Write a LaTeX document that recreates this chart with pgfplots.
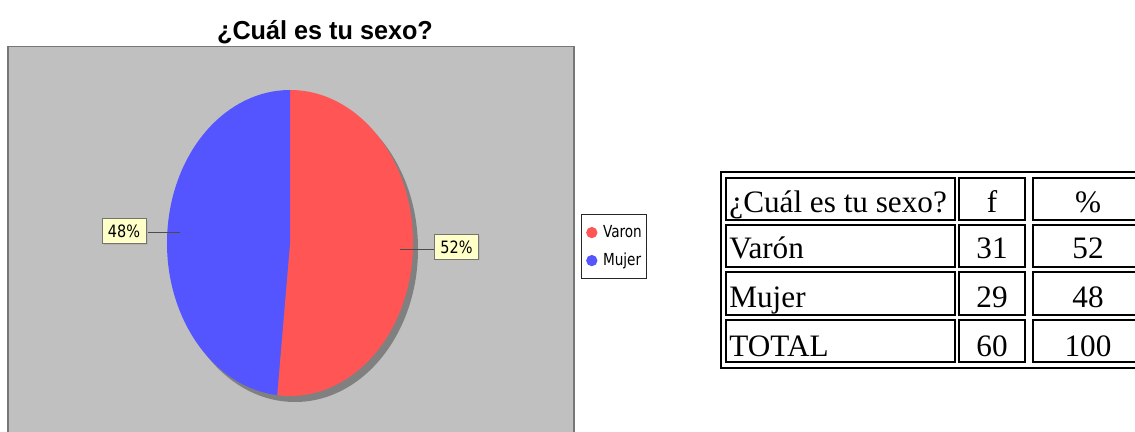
\documentclass[border=0pt]{standalone}
\usepackage{pgfplots}
\pgfplotsset{compat=1.18}
\usepackage{fontspec}
\usepackage{graphicx}
\setmainfont{Liberation Serif}
\newfontfamily\titlefont{Liberation Sans}
\newfontfamily\dejavu{DejaVu Sans}
\definecolor{pieRed}{HTML}{FF5555}
\definecolor{pieBlue}{HTML}{5555FF}
\definecolor{plotBg}{HTML}{C0C0C0}
\definecolor{plotEdge}{HTML}{777777}
\definecolor{shadowGray}{HTML}{808080}
\definecolor{labelFill}{HTML}{FFFFC8}
% data: frequencies
\def\nVaron{31}
\def\nMujer{29}
\pgfmathsetmacro{\total}{\nVaron+\nMujer}
\pgfmathsetmacro{\endR}{90-360*\nVaron/\total}
\pgfmathsetmacro{\endB}{\endR-360*\nMujer/\total}
\tikzset{cellbox/.style={draw=black, line width=1pt},
  celltext/.style={inner sep=0, font=\fontsize{15.6pt}{18pt}\selectfont},
  pielabel/.style={draw=black!55, fill=labelFill, line width=0.5pt, inner sep=0, minimum width=22pt, minimum height=12.2pt, font=\dejavu\fontsize{8.5pt}{9pt}\selectfont}}
\begin{document}
\begin{tikzpicture}
\useasboundingbox (0,0) rectangle (567.5pt,216pt);
\clip (0,0) rectangle (567.5pt,216pt);
\begin{axis}[
  at={(0,0)}, anchor=south west,
  scale only axis, width=567.5pt, height=216pt,
  xmin=0, xmax=1135, ymin=0, ymax=432,
  hide axis, clip=false,
  legend style={at={(axis cs:581,218)}, anchor=north west, draw=black!85, line width=0.6pt, fill=white,
    font=\dejavu\fontsize{8.3pt}{9pt}\selectfont, inner xsep=2.3pt, inner ysep=2pt, row sep=0pt,
    column sep=2.8pt,
    nodes={inner sep=0pt, minimum height=14pt}},
  legend cell align=left,
  legend image code/.code={\fill[#1] (2.5pt,0pt) circle (2.5pt);},
]
% plot background
\fill[plotBg] (axis cs:8,-8) rectangle (axis cs:574,385.5);
\draw[plotEdge, line width=0.75pt] (axis cs:8,-8) rectangle (axis cs:574,385.5);
% title
\node[anchor=base, inner sep=0] at (axis cs:325,392.5) {\titlefont\bfseries\fontsize{13pt}{16pt}\selectfont\scalebox{0.97}[1]{¿Cuál es tu sexo?}};
% shadow
\fill[shadowGray] (axis cs:295,183) ellipse [x radius=61.5pt, y radius=76.5pt];
% wedges
\fill[pieRed] (axis cs:290,189) -- ++(90:61.5pt and 76.5pt) arc[start angle=90, end angle=\endR, x radius=61.5pt, y radius=76.5pt] -- cycle;
\fill[pieBlue] (axis cs:290,189) -- ++(\endR:61.5pt and 76.5pt) arc[start angle=\endR, end angle=\endB, x radius=61.5pt, y radius=76.5pt] -- cycle;
% leader lines
\draw[black!70, line width=0.5pt] (axis cs:180,199) -- (axis cs:146,199);
\draw[black!70, line width=0.5pt] (axis cs:400,182) -- (axis cs:434,182);
% label boxes
\fill[black!30] (axis cs:104,187) rectangle (axis cs:148,211);
\node[pielabel] at (axis cs:124,201) {\scalebox{0.85}[1]{48\%}};
\fill[black!30] (axis cs:436,172) rectangle (axis cs:480,196);
\node[pielabel] at (axis cs:456.5,185) {\scalebox{0.85}[1]{52\%}};
% legend
\addlegendimage{pieRed}
\addlegendentry{\scalebox{0.82}[1]{Varon}}
\addlegendimage{pieBlue}
\addlegendentry{\scalebox{0.82}[1]{Mujer}}
% table
\draw[black, line width=1pt] (axis cs:721,64) rectangle (axis cs:1150,260);
\draw[cellbox] (axis cs:726,212) rectangle (axis cs:955,254);
\draw[cellbox] (axis cs:959,212) rectangle (axis cs:1025,254);
\draw[cellbox] (axis cs:1033,212) rectangle (axis cs:1145,254);
\draw[cellbox] (axis cs:726,165) rectangle (axis cs:955,207);
\draw[cellbox] (axis cs:959,165) rectangle (axis cs:1025,207);
\draw[cellbox] (axis cs:1033,165) rectangle (axis cs:1145,207);
\draw[cellbox] (axis cs:726,117) rectangle (axis cs:955,160);
\draw[cellbox] (axis cs:959,117) rectangle (axis cs:1025,160);
\draw[cellbox] (axis cs:1033,117) rectangle (axis cs:1145,160);
\draw[cellbox] (axis cs:726,70) rectangle (axis cs:955,112);
\draw[cellbox] (axis cs:959,70) rectangle (axis cs:1025,112);
\draw[cellbox] (axis cs:1033,70) rectangle (axis cs:1145,112);
\node[celltext, anchor=base west] at (axis cs:729,219) {¿Cuál es tu sexo?};
\node[celltext, anchor=base west] at (axis cs:729,173) {Varón};
\node[celltext, anchor=base west] at (axis cs:729,124) {Mujer};
\node[celltext, anchor=base west] at (axis cs:729,75) {TOTAL};
\node[celltext, anchor=base] at (axis cs:992,219) {f};
\node[celltext, anchor=base] at (axis cs:992,173) {31};
\node[celltext, anchor=base] at (axis cs:992,124) {29};
\node[celltext, anchor=base] at (axis cs:992,75) {60};
\node[celltext, anchor=base] at (axis cs:1088,219) {\%};
\node[celltext, anchor=base] at (axis cs:1088,173) {52};
\node[celltext, anchor=base] at (axis cs:1088,124) {48};
\node[celltext, anchor=base] at (axis cs:1088,75) {100};
\end{axis}
\end{tikzpicture}
\end{document}
